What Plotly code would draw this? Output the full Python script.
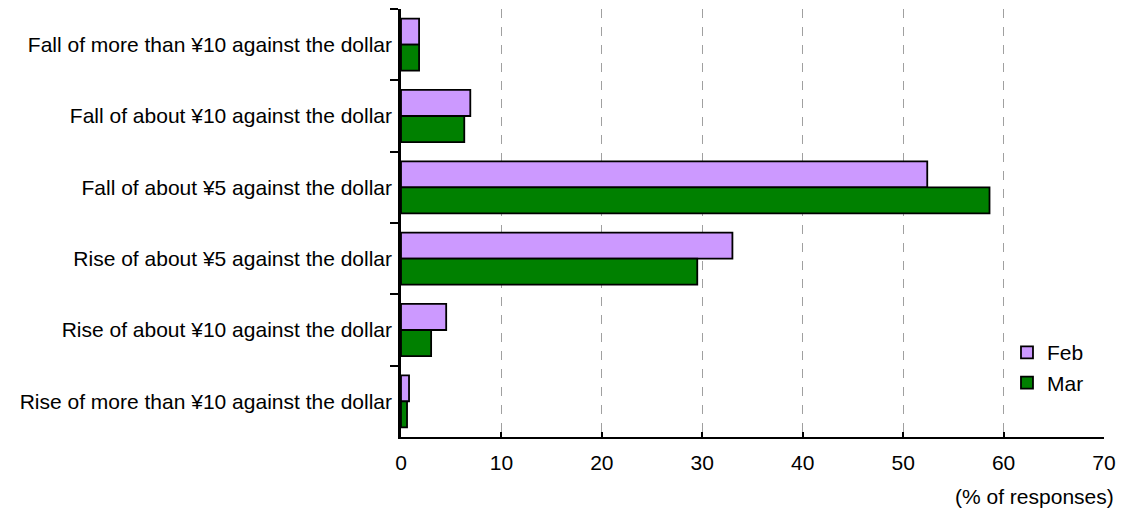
import plotly.graph_objects as go

categories = [
    "Fall of more than ¥10 against the dollar",
    "Fall of about ¥10 against the dollar",
    "Fall of about ¥5 against the dollar",
    "Rise of about ¥5 against the dollar",
    "Rise of about ¥10 against the dollar",
    "Rise of more than ¥10 against the dollar",
]
feb_values = [1.8, 6.9, 52.4, 33.0, 4.5, 0.8]
mar_values = [1.8, 6.3, 58.6, 29.5, 3.0, 0.6]
x_ticks = [0, 10, 20, 30, 40, 50, 60, 70]

FONT = "Liberation Sans, Arial, sans-serif"
FS = 21

fig = go.Figure()
fig.add_trace(go.Bar(
    name="Feb", y=categories, x=feb_values, orientation="h",
    marker=dict(color="#CC99FF", line=dict(color="black", width=1.8)),
))
fig.add_trace(go.Bar(
    name="Mar", y=categories, x=mar_values, orientation="h",
    marker=dict(color="#008000", line=dict(color="black", width=1.8)),
))

fig.update_layout(
    width=1124, height=513,
    margin=dict(l=401, r=20, t=9, b=76),
    paper_bgcolor="white", plot_bgcolor="white",
    barmode="group", bargap=0.27, bargroupgap=0,
    font=dict(family=FONT, size=FS, color="black"),
    showlegend=True,
    legend=dict(
        x=0.862, y=0.245, xanchor="left", yanchor="top",
        bgcolor="rgba(0,0,0,0)", font=dict(size=FS),
        itemwidth=30, tracegroupgap=0,
    ),
    xaxis=dict(
        range=[0, 70], tickvals=x_ticks, ticktext=[str(v) for v in x_ticks],
        showgrid=True, gridcolor="#A0A0A0", griddash="dash", gridwidth=1,
        showline=True, linecolor="black", linewidth=1.5,
        ticks="inside", ticklen=5, tickcolor="black", tickwidth=1.5,
        zeroline=False, tickfont=dict(size=FS), ticklabelstandoff=6,
    ),
    yaxis=dict(
        categoryorder="array", categoryarray=categories, autorange="reversed",
        showline=True, linecolor="black", linewidth=2.5,
        ticks="outside", tickson="boundaries", ticklen=8, tickcolor="black", tickwidth=1.5,
        showgrid=False, tickfont=dict(size=FS), ticklabelstandoff=2,
    ),
    annotations=[dict(
        text="(% of responses)", xref="paper", yref="paper",
        x=1.0, y=0, xanchor="right", yanchor="top", yshift=-46, xshift=12,
        showarrow=False, font=dict(size=FS),
    )],
)

fig.write_html("out.html")
